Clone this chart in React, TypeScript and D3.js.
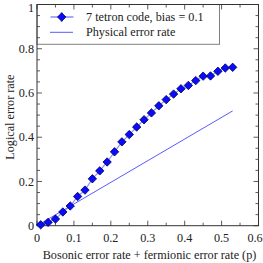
import React from "react";
import * as d3 from "d3";

const pValues = [0.01, 0.03, 0.05, 0.07, 0.09, 0.11, 0.13, 0.15, 0.17, 0.19, 0.21, 0.23, 0.25, 0.27, 0.29, 0.31, 0.33, 0.35, 0.37, 0.39, 0.41, 0.43, 0.45, 0.47, 0.49, 0.51, 0.53];
const logicalRates = [0.004, 0.015, 0.03, 0.062, 0.089, 0.132, 0.161, 0.212, 0.248, 0.288, 0.334, 0.379, 0.412, 0.446, 0.479, 0.51, 0.542, 0.57, 0.595, 0.619, 0.634, 0.656, 0.676, 0.677, 0.698, 0.713, 0.716];
const physicalP = [0.01, 0.53];
const physicalRates = [0.01, 0.519];
const xTicks = [0, 0.1, 0.2, 0.3, 0.4, 0.5, 0.6];
const yTicks = [0, 0.2, 0.4, 0.6, 0.8, 1];
const minorStep = 0.05;
const legendLabels = ["7 tetron code, bias = 0.1", "Physical error rate"];
const xLabel = "Bosonic error rate + fermionic error rate (p)";
const yLabel = "Logical error rate";

const W = 263, H = 263;
const L = 37, R = 258.5, T = 4.5, B = 225.7;
const FONT = "'Liberation Serif', 'Times New Roman', serif";
const FS = 12.2;

export default function App() {
  const x = d3.scaleLinear().domain([0, 0.6]).range([L, R]);
  const y = d3.scaleLinear().domain([0, 1]).range([B, T]);
  const xMinor = d3.range(0, 0.6 + 1e-9, minorStep);
  const yMinor = d3.range(0, 1 + 1e-9, minorStep);
  const line = d3.line<number>().x((_, i) => x(pValues[i])).y((d) => y(d));
  const physLine = d3.line<number>().x((_, i) => x(physicalP[i])).y((d) => y(d));
  const diamond = (cx: number, cy: number, r = 4.2) =>
    `M${cx},${cy - r}L${cx + r},${cy}L${cx},${cy + r}L${cx - r},${cy}Z`;
  const isMajor = (v: number, step: number) => Math.abs(v / step - Math.round(v / step)) < 1e-6;

  return (
    <svg width={W} height={H} style={{ position: "absolute", left: 0, top: 0 }} fontFamily={FONT}>
      <rect width={W} height={H} fill="#fff" />
      {/* legend box */}
      <rect x={L} y={T} width={219.5 - L} height={44.3 - T} fill="#fff" stroke="#808080" strokeWidth={1} />
      {/* ticks */}
      {xMinor.map((v, i) => {
        const len = isMajor(v, 0.1) ? 5 : 3;
        return (
          <g key={"xt" + i} stroke="#333" strokeWidth={0.8}>
            <line x1={x(v)} x2={x(v)} y1={B} y2={B - len} />
            <line x1={x(v)} x2={x(v)} y1={T} y2={T + len} />
          </g>
        );
      })}
      {yMinor.map((v, i) => {
        const len = isMajor(v, 0.2) ? 5 : 3;
        return (
          <g key={"yt" + i} stroke="#333" strokeWidth={0.8}>
            <line x1={L} x2={L + len} y1={y(v)} y2={y(v)} />
            <line x1={R} x2={R - len} y1={y(v)} y2={y(v)} />
          </g>
        );
      })}
      <rect x={L} y={T} width={R - L} height={B - T} fill="none" stroke="#333" strokeWidth={1} />
      {/* tick labels */}
      {xTicks.map((v) => (
        <text key={"xl" + v} x={Math.min(x(v), W - 8)} y={242} fontSize={FS} textAnchor="middle" fill="#222">
          {v === 0 ? "0" : d3.format(".1f")(v)}
        </text>
      ))}
      {yTicks.map((v) => (
        <text key={"yl" + v} x={34} y={Math.max(y(v) + 4.2, 11.5)} fontSize={FS} textAnchor="end" fill="#222">
          {v === 0 || v === 1 ? String(v) : d3.format(".1f")(v)}
        </text>
      ))}
      <text x={149.5} y={258.5} fontSize={FS} textAnchor="middle" fill="#222">{xLabel}</text>
      <text transform={`translate(14,${(T + B) / 2 + 2}) rotate(-90)`} fontSize={FS} textAnchor="middle" fill="#222">{yLabel}</text>
      {/* series */}
      <path d={physLine(physicalRates) || ""} fill="none" stroke="#5a5aff" strokeWidth={1} />
      <path d={line(logicalRates) || ""} fill="none" stroke="#9090ff" strokeWidth={1.2} />
      {logicalRates.map((v, i) => (
        <path key={"m" + i} d={diamond(x(pValues[i]), y(v))} fill="#0a0aff" stroke="#000050" strokeWidth={0.8} strokeLinejoin="round" />
      ))}
      {/* legend entries */}
      <line x1={50.5} x2={73.5} y1={17} y2={17} stroke="#a8a8ff" strokeWidth={2} />
      <line x1={61.7} x2={61.7} y1={12} y2={22} stroke="#a8a8ff" strokeWidth={2} />
      <path d={diamond(61.7, 17)} fill="#0a0aff" stroke="#000050" strokeWidth={0.8} />
      <text x={86} y={21} fontSize={FS} fill="#222">{legendLabels[0]}</text>
      <line x1={50} x2={73} y1={32.3} y2={32.3} stroke="#5a5aff" strokeWidth={1} />
      <text x={86} y={36.3} fontSize={FS} fill="#222">{legendLabels[1]}</text>
    </svg>
  );
}
